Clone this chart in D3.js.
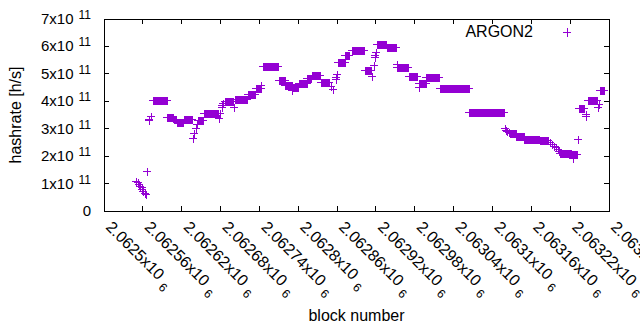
<!DOCTYPE html>
<html>
<head>
<meta charset="utf-8">
<script src="https://cdn.jsdelivr.net/npm/d3@7"></script>
<style>
  body { margin: 0; background: #fff; }
  text { font-family: "Liberation Sans", Arial, sans-serif; }
</style>
</head>
<body>
<div id="chart"></div>
<script>
// runs of equal hashrate: first block, last block, rate (x1e11 h/s)
var runFrom = [2062549, 2062552, 2062554, 2062556, 2062558, 2062559, 2062561, 2062563, 2062565, 2062567,
  2062569, 2062570, 2062572, 2062575, 2062598, 2062608, 2062612, 2062623, 2062638, 2062639,
  2062642, 2062644, 2062645, 2062654, 2062677, 2062679, 2062682, 2062683, 2062684, 2062687,
  2062701, 2062703, 2062722, 2062734, 2062743, 2062746, 2062770, 2062780, 2062791, 2062792,
  2062801, 2062814, 2062821, 2062835, 2062851, 2062854, 2062858, 2062859, 2062860, 2062862,
  2062873, 2062883, 2062903, 2062914, 2062917, 2062918, 2062919, 2062920, 2062921, 2062937,
  2062952, 2062953, 2062971, 2062986, 2062987, 2062998, 2063019, 2063064, 2063119, 2063121,
  2063123, 2063125, 2063127, 2063137, 2063149, 2063173, 2063189, 2063192, 2063195, 2063198,
  2063201, 2063203, 2063204, 2063223, 2063225, 2063232, 2063233, 2063244, 2063245, 2063248,
  2063263, 2063264, 2063266];
var runTo = [2062549, 2062552, 2062554, 2062556, 2062558, 2062559, 2062561, 2062563, 2062565, 2062567,
  2062569, 2062570, 2062572, 2062597, 2062607, 2062611, 2062622, 2062636, 2062638, 2062639,
  2062642, 2062644, 2062653, 2062676, 2062677, 2062679, 2062682, 2062683, 2062684, 2062699,
  2062701, 2062721, 2062733, 2062742, 2062743, 2062769, 2062779, 2062790, 2062791, 2062800,
  2062813, 2062820, 2062834, 2062848, 2062851, 2062854, 2062858, 2062859, 2062860, 2062872,
  2062879, 2062902, 2062913, 2062914, 2062917, 2062918, 2062919, 2062920, 2062936, 2062951,
  2062952, 2062970, 2062983, 2062986, 2062997, 2063018, 2063063, 2063118, 2063119, 2063121,
  2063123, 2063125, 2063136, 2063148, 2063172, 2063186, 2063189, 2063192, 2063195, 2063198,
  2063201, 2063203, 2063222, 2063230, 2063225, 2063232, 2063242, 2063244, 2063245, 2063261,
  2063263, 2063264, 2063273];
var runRate = [1.08, 1.04, 0.98, 0.92, 0.86, 0.79, 0.73, 0.66, 0.62, 1.47,
  3.30, 3.36, 3.47, 4.05, 3.42, 3.36, 3.26, 3.35, 2.67, 2.83,
  3.01, 3.17, 3.33, 3.56, 3.40, 3.56, 3.78, 3.86, 3.94, 4.02,
  3.80, 4.07, 4.27, 4.47, 4.60, 5.27, 4.79, 4.59, 4.40, 4.53,
  4.65, 4.85, 4.96, 4.71, 4.55, 4.45, 4.80, 4.90, 5.00, 5.43,
  5.67, 5.86, 5.14, 4.92, 5.32, 5.60, 5.70, 5.80, 6.08, 5.97,
  5.36, 5.25, 4.93, 4.53, 4.68, 4.87, 4.47, 3.60, 3.03, 2.97,
  2.92, 2.88, 2.84, 2.75, 2.64, 2.59, 2.50, 2.44, 2.38, 2.32,
  2.26, 2.20, 2.11, 2.07, 1.92, 2.61, 3.74, 3.55, 3.45, 4.04,
  3.80, 3.90, 4.40];

var xTicks = d3.range(0, 14).map(function(i) { return 2062500 + i * 60; });
var yTicks = [0, 1, 2, 3, 4, 5, 6, 7];
var seriesName = "ARGON2";
var color = "#9400d3";

var w = 640, h = 330;
var pLeft = 104, pRight = 609, pTop = 19, pBottom = 211;
var arm = 4;

var svg = d3.select("#chart")
  .append("svg")
  .attr("width", w)
  .attr("height", h);

var x = d3.scaleLinear().domain([2062500, 2063280]).range([pLeft, pRight]);
var y = d3.scaleLinear().domain([0, 7]).range([pBottom, pTop]);

// tick marks on all four sides
var ticks = svg.append("g")
  .attr("stroke", "#000")
  .attr("stroke-width", 1)
  .attr("shape-rendering", "crispEdges");

yTicks.forEach(function(t) {
  ticks.append("line").attr("x1", pLeft).attr("x2", pLeft + 5).attr("y1", y(t)).attr("y2", y(t));
  ticks.append("line").attr("x1", pRight).attr("x2", pRight - 5).attr("y1", y(t)).attr("y2", y(t));
});
xTicks.forEach(function(t) {
  ticks.append("line").attr("x1", x(t)).attr("x2", x(t)).attr("y1", pBottom).attr("y2", pBottom - 5);
  ticks.append("line").attr("x1", x(t)).attr("x2", x(t)).attr("y1", pTop).attr("y2", pTop + 5);
});

// y tick labels
var yLab = svg.append("g")
  .attr("font-size", "15px")
  .attr("fill", "#000");

yTicks.forEach(function(t) {
  var tx = yLab.append("text")
    .attr("x", 91)
    .attr("y", y(t) + 5)
    .attr("text-anchor", "end");
  if (t === 0) {
    tx.text("0");
  } else {
    tx.append("tspan").text(t + "x10");
    tx.append("tspan").attr("dx", 5).attr("dy", -5).attr("font-size", "12px").text("11");
  }
});

// x tick labels, rotated
var xLab = svg.append("g")
  .attr("font-size", "16px")
  .attr("fill", "#000");

xTicks.forEach(function(t) {
  var label = String(+(t / 1e6).toFixed(5));
  var tx = xLab.append("text")
    .attr("transform", "translate(" + (x(t) + 1) + ",228) rotate(45)")
    .attr("text-anchor", "start");
  tx.append("tspan").text(label + "x10");
  tx.append("tspan").attr("dx", 5).attr("dy", 5).attr("font-size", "12px").text("6");
});

// frame
svg.append("rect")
  .attr("x", pLeft)
  .attr("y", pTop)
  .attr("width", pRight - pLeft)
  .attr("height", pBottom - pTop)
  .attr("fill", "none")
  .attr("stroke", "#000")
  .attr("shape-rendering", "crispEdges");

// axis titles
svg.append("text")
  .attr("transform", "translate(21," + ((pTop + pBottom) / 2) + ") rotate(-90)")
  .attr("text-anchor", "middle")
  .attr("font-size", "16px")
  .text("hashrate [h/s]");

svg.append("text")
  .attr("x", (pLeft + pRight) / 2)
  .attr("y", 321)
  .attr("text-anchor", "middle")
  .attr("font-size", "16px")
  .text("block number");

// the points: a run of "+" marks merges into a bar
var runs = runFrom.map(function(f, i) {
  return { from: f, to: runTo[i], rate: runRate[i] };
});

var marks = svg.append("g")
  .attr("shape-rendering", "crispEdges");

marks.selectAll(".bar")
  .data(runs)
  .enter()
  .append("rect")
  .attr("x", function(d) { return Math.round(x(d.from)) - 0.5; })
  .attr("width", function(d) { return Math.round(x(d.to)) - Math.round(x(d.from)) + 1; })
  .attr("y", function(d) { return Math.round(y(d.rate)) - arm + 0.5; })
  .attr("height", arm * 2)
  .attr("fill", color);

marks.selectAll(".arm")
  .data(runs)
  .enter()
  .append("line")
  .attr("x1", function(d) { return Math.round(x(d.from)) - arm; })
  .attr("x2", function(d) { return Math.round(x(d.to)) + arm; })
  .attr("y1", function(d) { return Math.round(y(d.rate)) + 0.5; })
  .attr("y2", function(d) { return Math.round(y(d.rate)) + 0.5; })
  .attr("stroke", color)
  .attr("stroke-width", 1);

// key
svg.append("text")
  .attr("x", 533)
  .attr("y", 37)
  .attr("text-anchor", "end")
  .attr("font-size", "16px")
  .text(seriesName);

var key = svg.append("g")
  .attr("stroke", color)
  .attr("shape-rendering", "crispEdges");
key.append("line").attr("x1", 563).attr("x2", 571).attr("y1", 32.5).attr("y2", 32.5);
key.append("line").attr("x1", 567.5).attr("x2", 567.5).attr("y1", 28).attr("y2", 37);
</script>
</body>
</html>
